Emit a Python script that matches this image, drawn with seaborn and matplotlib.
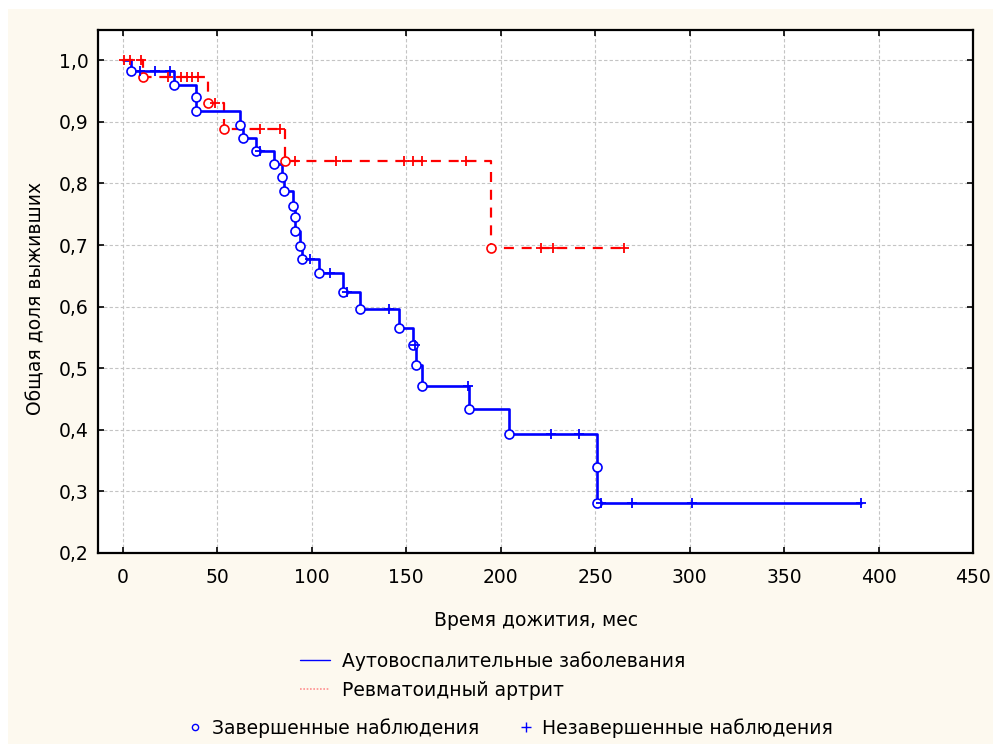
import numpy as np
import pandas as pd
import matplotlib
matplotlib.use("Agg")
import matplotlib.pyplot as plt
from matplotlib.lines import Line2D
from matplotlib.patches import Rectangle
import seaborn as sns

# ---- data ----
blue_label = "Аутовоспалительные заболевания"
red_label = "Ревматоидный артрит"

blue_event_t = [0, 4.5, 27, 39, 39, 62, 63.5, 70.5, 80, 84.5, 85.5, 90, 91, 91.2, 94, 95.2,
                103.7, 116.6, 125.8, 146.3, 153.6, 155.5, 158.5, 183.5, 204.5, 251.3, 251.3]
blue_event_s = [1.0, 0.982, 0.960, 0.940, 0.918, 0.895, 0.874, 0.852, 0.832, 0.811, 0.787,
                0.764, 0.745, 0.723, 0.699, 0.677, 0.654, 0.624, 0.596, 0.566, 0.538, 0.505,
                0.471, 0.433, 0.393, 0.339, 0.281]
blue_end_t = 390.6
blue_cens_t = [9, 17, 25, 72.8, 99.3, 109.5, 118.8, 140.8, 154.5, 183.0, 226.9, 241.6,
               253.0, 269.3, 301.2, 390.6]

red_event_t = [0, 11, 45.4, 53.7, 85.7, 194.8]
red_event_s = [1.0, 0.973, 0.930, 0.888, 0.837, 0.696]
red_end_t = 265.1
red_cens_t = [1, 4, 10, 24, 31, 34, 37, 40, 49, 72.8, 83.4, 91.4, 113.1, 149.0, 153.5,
              158.3, 181.5, 221.6, 227.8, 265.1]

x_ticks = [0, 50, 100, 150, 200, 250, 300, 350, 400, 450]
y_ticks = [0.2, 0.3, 0.4, 0.5, 0.6, 0.7, 0.8, 0.9, 1.0]

BLUE = "#0000FF"
RED = "#FF0000"
CREAM = "#FDF9EF"
FS = 13.5


def step_value(times, surv, t):
    idx = np.searchsorted(np.asarray(times), t, side="right") - 1
    return np.asarray(surv)[idx]


def curve_frame(times, surv, end_t):
    return pd.DataFrame({"t": list(times) + [end_t], "s": list(surv) + [surv[-1]]})


sns.set_theme(style="white")
plt.rcParams["font.family"] = ["DejaVu Sans"]
plt.rcParams["text.color"] = "black"
plt.rcParams["axes.labelcolor"] = "black"
plt.rcParams["xtick.color"] = "black"
plt.rcParams["ytick.color"] = "black"

fig = plt.figure(figsize=(9.93, 7.44), dpi=100, facecolor="white")
fig.patches.append(Rectangle((8 / 993, -0.01), 1.02, 1.01 - 9 / 744, transform=fig.transFigure,
                             facecolor=CREAM, edgecolor="none", zorder=-10))
ax = fig.add_axes([98 / 993, 1 - 553 / 744, (973 - 98) / 993, (553 - 29.5) / 744])
ax.set_facecolor("white")

# curves
bdf = curve_frame(blue_event_t, blue_event_s, blue_end_t)
rdf = curve_frame(red_event_t, red_event_s, red_end_t)
sns.lineplot(data=bdf, x="t", y="s", ax=ax, color=BLUE, lw=1.9, drawstyle="steps-post",
             estimator=None, sort=False, zorder=4)
sns.lineplot(data=rdf, x="t", y="s", ax=ax, color=RED, lw=1.6, drawstyle="steps-post",
             estimator=None, sort=False, zorder=3, linestyle=(0, (4.5, 3.5)))

# event circles
be = pd.DataFrame({"t": blue_event_t[1:], "s": blue_event_s[1:]})
re = pd.DataFrame({"t": red_event_t[1:], "s": red_event_s[1:]})
sns.scatterplot(data=be, x="t", y="s", ax=ax, marker="o", s=42, facecolor="white",
                edgecolor=BLUE, linewidth=1.2, zorder=6)
sns.scatterplot(data=re, x="t", y="s", ax=ax, marker="o", s=42, facecolor="white",
                edgecolor=RED, linewidth=1.2, zorder=5)

# censored marks
bc = pd.DataFrame({"t": blue_cens_t, "s": [step_value(blue_event_t, blue_event_s, t) for t in blue_cens_t]})
rc = pd.DataFrame({"t": red_cens_t, "s": [step_value(red_event_t, red_event_s, t) for t in red_cens_t]})
sns.scatterplot(data=bc, x="t", y="s", ax=ax, marker="+", s=60, color=BLUE, linewidth=1.3, zorder=6)
sns.scatterplot(data=rc, x="t", y="s", ax=ax, marker="+", s=60, color=RED, linewidth=1.3, zorder=5)

# axes styling
ax.set_xlim(-13, 450)
ax.set_ylim(0.2, 1.05)
ax.set_xticks(x_ticks)
ax.set_yticks(y_ticks)
ax.set_xticklabels([str(v) for v in x_ticks], fontsize=FS)
ax.set_yticklabels([f"{v:.1f}".replace(".", ",") for v in y_ticks], fontsize=FS)
ax.tick_params(direction="in", length=4, width=1.2, top=True, right=True, left=True,
               bottom=True, colors="black")
ax.tick_params(axis="x", pad=11)
ax.tick_params(axis="y", pad=7)
ax.grid(True, color="#C4C4C4", linestyle=(0, (3, 2)), linewidth=0.8)
for sp in ax.spines.values():
    sp.set_visible(True)
    sp.set_color("black")
    sp.set_linewidth(1.6)
ax.set_xlabel("Время дожития, мес", fontsize=FS, labelpad=17)
ax.set_ylabel("Общая доля выживших", fontsize=FS, labelpad=9)
ax.yaxis.label.set_y(0.487)

# legends
h1 = [Line2D([], [], color=BLUE, lw=1.0),
      Line2D([], [], color="#FF9090", lw=1.2, linestyle=(0, (1, 1)))]
leg1 = fig.legend(h1, [blue_label, red_label], loc="upper left",
                  bbox_to_anchor=(300 / 993, 1 - 651 / 744), frameon=False, fontsize=FS,
                  handlelength=1.6, handletextpad=0.64, labelspacing=0.55,
                  borderpad=0, borderaxespad=0)
h2 = [Line2D([], [], color=BLUE, marker="o", markersize=4.5, markerfacecolor="none", lw=0),
      Line2D([], [], color=BLUE, marker="+", markersize=6.5, lw=0)]
leg2 = fig.legend(h2, ["Завершенные наблюдения", "Незавершенные наблюдения"], loc="upper left",
                  bbox_to_anchor=(186 / 993, 1 - 718 / 744), frameon=False, fontsize=FS, ncol=2,
                  handlelength=1.0, handletextpad=0.37, columnspacing=2.0,
                  borderpad=0, borderaxespad=0)

fig.savefig("out.png", dpi=100, facecolor="white")
